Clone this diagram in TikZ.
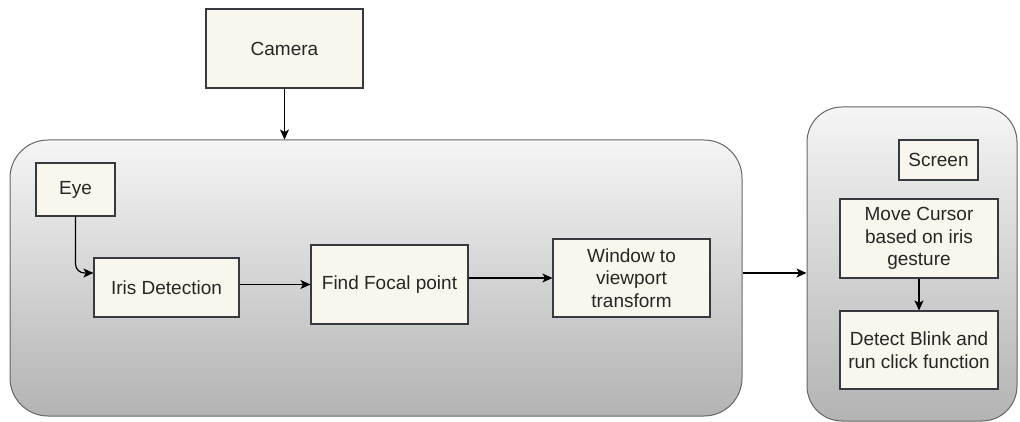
\documentclass[tikz,border=0pt]{standalone}
\usepackage{fontspec}
\setmainfont{Liberation Sans}
\usetikzlibrary{arrows.meta}
\definecolor{boxfill}{HTML}{F9F7ED}
\definecolor{boxline}{HTML}{36393D}
\definecolor{grouptop}{HTML}{F5F5F5}
\definecolor{groupbot}{HTML}{B3B3B3}
\definecolor{groupline}{HTML}{666666}
\definecolor{txt}{HTML}{262626}
\begin{document}
\begin{tikzpicture}[x=1pt,y=-1pt,
  group/.style={draw=groupline, line width=1pt, top color=grouptop, bottom color=groupbot,
    rounded corners=#1, inner sep=0pt},
  stepbox/.style={draw=boxline, fill=boxfill, line width=1.1pt, inner sep=2pt,
    align=center, text=txt, font=\fontsize{19}{22.5}\selectfont},
  flow/.style={draw=black, line width=1.2pt, -{Stealth[length=10pt,width=9pt,inset=2.5pt]}}
]
\useasboundingbox (0,0) rectangle (1020,422);

% grouping panels
\node[group=38pt, minimum width=732pt, minimum height=276pt] (proc) at (376,278) {};
\node[group=35pt, minimum width=210pt, minimum height=314pt] (disp) at (912,264) {};

% processing steps
\node[stepbox, minimum width=157pt, minimum height=79pt] (camera) at (284.5,48.5) {Camera};
\node[stepbox, minimum width=79pt, minimum height=53pt] (eye) at (75.5,189.5) {Eye};
\node[stepbox, minimum width=145pt, minimum height=59pt] (iris) at (166.5,287.5) {Iris Detection};
\node[stepbox, minimum width=157pt, minimum height=79pt] (focal) at (389.5,284.5) {Find Focal point};
\node[stepbox, minimum width=157pt, minimum height=78pt] (window) at (631.5,278) {Window to\\viewport\\transform};

% screen side
\node[stepbox, minimum width=79pt, minimum height=40pt] (screen) at (938.5,160) {Screen};
\node[stepbox, minimum width=158pt, minimum height=79pt] (cursor) at (919,238.5) {Move Cursor\\based on iris\\gesture};
\node[stepbox, minimum width=158pt, minimum height=78pt] (blink) at (919,350) {Detect Blink and\\run click function};

% connectors
\coordinate (link) at (0,273);
\draw[flow] (camera.south) -- (camera.south |- proc.north);
\draw[flow, rounded corners=9pt] (eye.south) |- ([yshift=14.5pt]iris.west);
\draw[flow] (iris.east |- focal.west) -- (focal.west);
\draw[flow] (focal.east |- window.west) -- (window.west);
\draw[flow] (proc.east |- link) -- (disp.west |- link);
\draw[flow] (cursor.south) -- (blink.north);
\end{tikzpicture}
\end{document}
